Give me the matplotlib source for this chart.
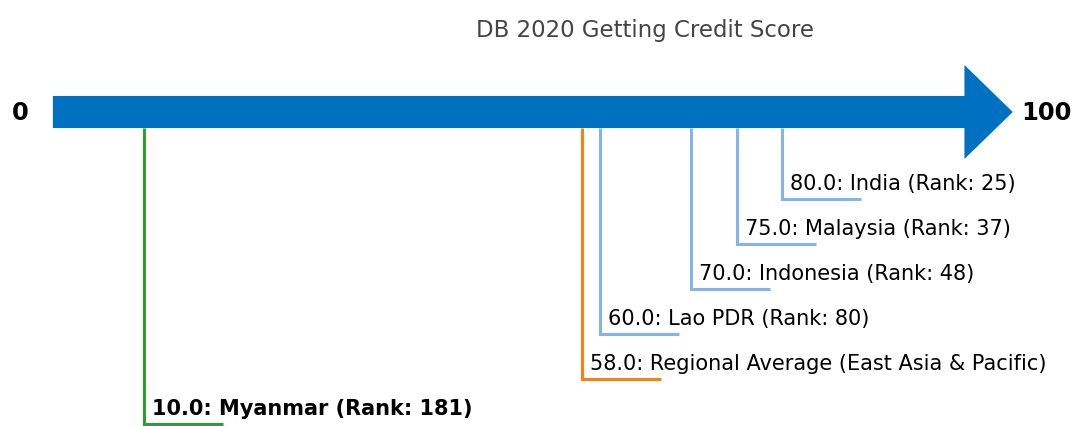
import matplotlib
matplotlib.use('Agg')
import matplotlib.pyplot as plt
import matplotlib.patches as mpatches

# scores on the DB 2020 getting credit scale
names = ['India', 'Malaysia', 'Indonesia', 'Lao PDR', 'Regional Average (East Asia & Pacific)', 'Myanmar']
scores = [80.0, 75.0, 70.0, 60.0, 58.0, 10.0]
ranks = [25, 37, 48, 80, None, 181]
kinds = ['peer', 'peer', 'peer', 'peer', 'region', 'focus']

colours = {'peer': '#85b3ee', 'region': '#ff7f0e', 'focus': '#2ca02c'}

fig = plt.figure(figsize=(10.72, 4.27), dpi=100)
ax = fig.add_axes([0, 0, 1, 1])
# x in score units, y in pixel-like units (top = 0)
ax.set_xlim(-5.8, 111.8)
ax.set_ylim(427, 0)
ax.axis('off')

arrow_y = 113
arrow = mpatches.FancyArrow(0, arrow_y, 105.3, 0, width=32, head_width=94,
                            head_length=5.3, length_includes_head=True,
                            color='#0070c0', lw=0)
ax.add_patch(arrow)

ax.text(-3.6, arrow_y, '0', fontsize=17.5, fontweight='bold', ha='center', va='center')
ax.text(106.2, arrow_y, '100', fontsize=17.5, fontweight='bold', ha='left', va='center')
ax.text(65, 30, 'DB 2020 Getting Credit Score', fontsize=16.5, color='#444444',
        ha='center', va='center')

for i, (name, score, rank, kind) in enumerate(zip(names, scores, ranks, kinds)):
    y = 200 + 45 * i
    c = colours[kind]
    ax.plot([score, score, score + 8.7], [arrow_y + 16, y, y], color=c, lw=2.2,
            solid_joinstyle='miter', solid_capstyle='butt')
    label = f'{score:.1f}: {name}'
    if rank is not None:
        label += f' (Rank: {rank})'
    ax.text(score + 0.9, y - 10, label, fontsize=15,
            fontweight='bold' if kind == 'focus' else 'normal',
            ha='left', va='baseline')

fig.savefig('out.png', dpi=100)
